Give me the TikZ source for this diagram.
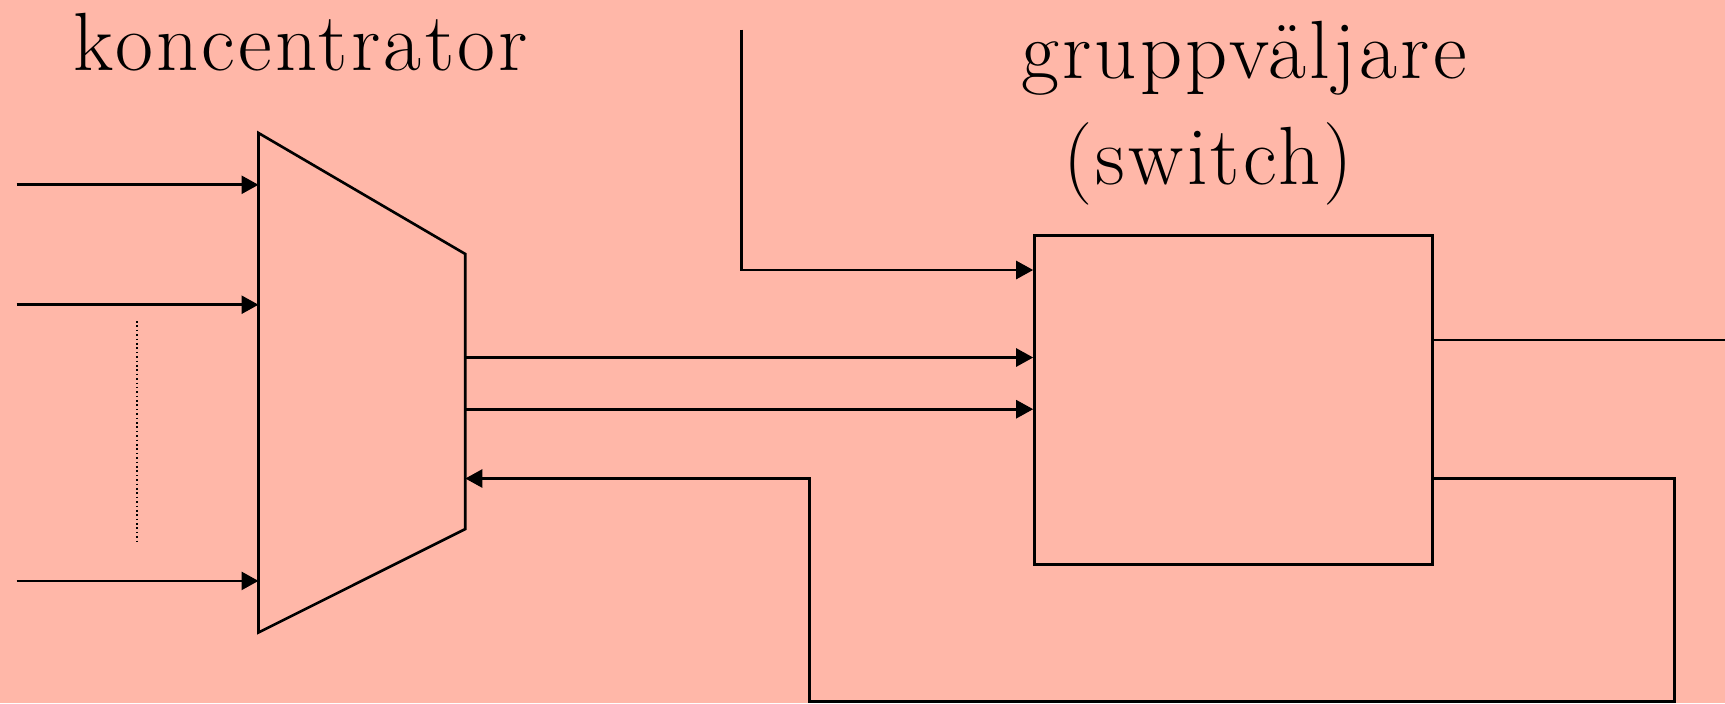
\documentclass[tikz,border=0pt]{standalone}
\usepackage{fontspec}
\usetikzlibrary{arrows.meta,positioning}
\definecolor{salmon}{HTML}{FFB7A8}
\newfontfamily\lblfont[LetterSpace=4]{Latin Modern Roman}

\begin{document}
\begin{tikzpicture}[x=0.1mm, y=-0.1mm, line width=0.75pt,
          link/.style={-{Triangle[length=1.7mm,width=1.8mm]}},
          lbl/.style={font=\lblfont\fontsize{23.5}{28}\selectfont, inner sep=0pt, anchor=base}]
        \fill[salmon] (0,0) rectangle (1725,703);
        \useasboundingbox (0,0) rectangle (1725,703);
        % koncentrator
        \coordinate (k1) at (258.5,133);
        \coordinate (k2) at (465.3,254);
        \coordinate (k3) at (465.3,529);
        \coordinate (k4) at (258.5,632.5);
        \draw (k1) -- (k2) -- (k3) -- (k4) -- cycle;
        % gruppvaljare
        \node[draw, minimum width=39.78mm, minimum height=32.9mm, inner sep=0pt] (sw) at (1233.4,399.9) {};
        \node[lbl] (konc) at (301,70) {koncentrator};
        \node[lbl] (grp) at (1244,78) {gruppväljare};
        \node[lbl] (swl) at (1208,184) {(switch)};
        % inputs
        \foreach \y [count=\i] in {184.8,304.7,580.9} {
          \coordinate (in\i) at (16.5,\y);
          \draw[link] (in\i) -- (in\i -| k1);}
        \draw[line width=0.45pt, dash pattern=on 0.45pt off 0.8pt] (136.8,321) -- (136.8,543.5);
        % trunks
        \foreach \y [count=\i] in {357.5,409.2} {
          \coordinate (m\i) at (465.3,\y);
          \draw[link] (m\i) -- (m\i -| sw.west);}
        \coordinate (t0) at (741.5,29.5);
        \coordinate (t1) at (741.5,270);
        \draw[link] (t0) -- (t1) -- (t1 -| sw.west);
        \coordinate (o1) at (1725,340);
        \draw (sw.east |- o1) -- (o1);
        % return loop
        \coordinate (r1) at (1674.3,478.5);
        \coordinate (r2) at (1674.3,701.5);
        \coordinate (r3) at (809.7,701.5);
        \coordinate (r4) at (809.7,478.5);
        \draw[link] (sw.east |- r1) -- (r1) -- (r2) -- (r3) -- (r4) -- (r4 -| k2);
      \end{tikzpicture}
\end{document}
